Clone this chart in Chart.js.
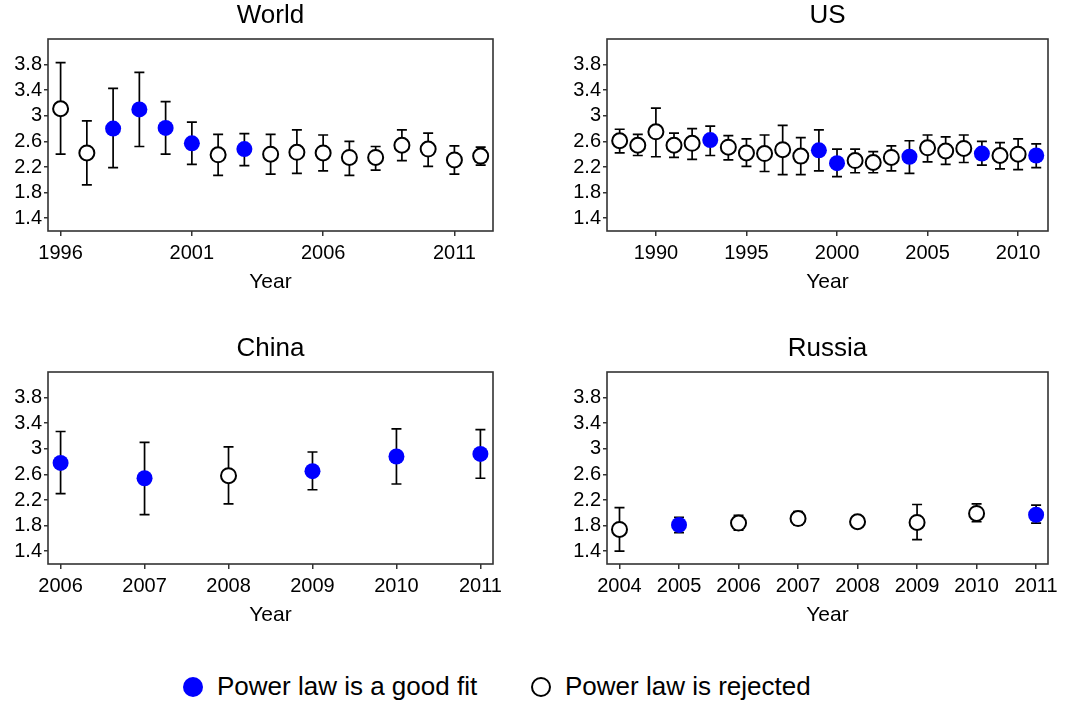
<!DOCTYPE html>
<html>
<head>
<meta charset="utf-8">
<script src="https://cdn.jsdelivr.net/npm/chart.js@4/dist/chart.umd.min.js"></script>
<style>
  body { margin: 0; background: #fff; font-family: "Liberation Sans", Arial, sans-serif; }
  #page { position: relative; width: 1066px; height: 701px; overflow: hidden; }
  .panel { position: absolute; }
  .legend { position: absolute; top: 671px; font-size: 26px; color: #000; line-height: 30px; white-space: nowrap; }
  .legend .dot { display: inline-block; width: 20px; height: 20px; border-radius: 50%; vertical-align: -2px; margin-right: 14px; box-sizing: border-box; }
</style>
</head>
<body>
<div id="page">
  <div class="panel" style="left:0;top:0;width:533px;height:333px"><canvas id="worldChart"></canvas></div>
  <div class="panel" style="left:559px;top:0;width:500px;height:333px"><canvas id="usChart"></canvas></div>
  <div class="panel" style="left:0;top:333px;width:533px;height:333px"><canvas id="chinaChart"></canvas></div>
  <div class="panel" style="left:559px;top:333px;width:511px;height:333px"><canvas id="russiaChart"></canvas></div>
  <div class="legend" style="left:183px"><span class="dot" style="background:#0000ff"></span>Power law is a good fit</div>
  <div class="legend" style="left:531px"><span class="dot" style="background:#fff;border:2px solid #000"></span>Power law is rejected</div>
</div>
<script>
// Data
const yTickValues = [1.4, 1.8, 2.2, 2.6, 3, 3.4, 3.8];

const worldYears = [1996, 1997, 1998, 1999, 2000, 2001, 2002, 2003, 2004, 2005, 2006, 2007, 2008, 2009, 2010, 2011, 2012];
const worldValues = [3.11, 2.42, 2.80, 3.10, 2.81, 2.57, 2.39, 2.48, 2.40, 2.43, 2.42, 2.35, 2.35, 2.54, 2.48, 2.31, 2.37];
const worldLower = [2.40, 1.92, 2.19, 2.52, 2.40, 2.24, 2.07, 2.22, 2.09, 2.10, 2.14, 2.07, 2.15, 2.30, 2.21, 2.09, 2.23];
const worldUpper = [3.83, 2.92, 3.43, 3.68, 3.22, 2.90, 2.71, 2.72, 2.71, 2.78, 2.70, 2.60, 2.52, 2.78, 2.73, 2.53, 2.51];
const worldGoodFit = [0, 0, 1, 1, 1, 1, 0, 1, 0, 0, 0, 0, 0, 0, 0, 0, 0];
const worldXTicks = [1996, 2001, 2006, 2011];

const usYears = [1988, 1989, 1990, 1991, 1992, 1993, 1994, 1995, 1996, 1997, 1998, 1999, 2000, 2001, 2002, 2003, 2004, 2005, 2006, 2007, 2008, 2009, 2010, 2011];
const usValues = [2.61, 2.54, 2.75, 2.54, 2.57, 2.62, 2.51, 2.42, 2.41, 2.47, 2.37, 2.46, 2.26, 2.30, 2.27, 2.35, 2.36, 2.50, 2.45, 2.49, 2.41, 2.38, 2.40, 2.38];
const usLower = [2.42, 2.38, 2.36, 2.35, 2.32, 2.38, 2.31, 2.21, 2.13, 2.08, 2.08, 2.14, 2.05, 2.11, 2.11, 2.14, 2.10, 2.28, 2.24, 2.27, 2.23, 2.17, 2.16, 2.19];
const usUpper = [2.79, 2.71, 3.12, 2.73, 2.80, 2.84, 2.69, 2.64, 2.70, 2.85, 2.66, 2.78, 2.48, 2.48, 2.44, 2.53, 2.61, 2.70, 2.67, 2.70, 2.60, 2.58, 2.64, 2.56];
const usGoodFit = [0, 0, 0, 0, 0, 1, 0, 0, 0, 0, 0, 1, 1, 0, 0, 0, 1, 0, 0, 0, 1, 0, 0, 1];
const usXTicks = [1990, 1995, 2000, 2005, 2010];

const chinaYears = [2006, 2007, 2008, 2009, 2010, 2011];
const chinaValues = [2.78, 2.54, 2.58, 2.65, 2.88, 2.92];
const chinaLower = [2.30, 1.97, 2.14, 2.36, 2.45, 2.54];
const chinaUpper = [3.27, 3.10, 3.03, 2.95, 3.31, 3.30];
const chinaGoodFit = [1, 1, 0, 1, 1, 1];
const chinaXTicks = [2006, 2007, 2008, 2009, 2010, 2011];

const russiaYears = [2004, 2005, 2006, 2007, 2008, 2009, 2010, 2011];
const russiaValues = [1.74, 1.81, 1.84, 1.91, 1.86, 1.85, 1.99, 1.97];
const russiaLower = [1.40, 1.69, 1.73, 1.81, 1.83, 1.58, 1.86, 1.84];
const russiaUpper = [2.08, 1.93, 1.96, 2.02, 1.89, 2.13, 2.14, 2.12];
const russiaGoodFit = [0, 1, 0, 0, 0, 0, 0, 1];
const russiaXTicks = [2004, 2005, 2006, 2007, 2008, 2009, 2010, 2011];

const FONT = '"Liberation Sans", Arial, sans-serif';

// error bars, frame and panel title drawn with the chart's own scales
const errorBarPlugin = {
  id: 'errorBars',
  beforeDatasetsDraw(chart, args, opts) {
    const { ctx, chartArea, scales: { x, y } } = chart;
    ctx.save();
    ctx.strokeStyle = '#333';
    ctx.lineWidth = 1.6;
    ctx.strokeRect(chartArea.left, chartArea.top, chartArea.right - chartArea.left, chartArea.bottom - chartArea.top);

    ctx.strokeStyle = '#000';
    ctx.lineWidth = 1.7;
    opts.years.forEach((yr, i) => {
      const px = x.getPixelForValue(yr);
      const top = y.getPixelForValue(opts.upper[i]);
      const bot = y.getPixelForValue(opts.lower[i]);
      ctx.beginPath();
      ctx.moveTo(px, top); ctx.lineTo(px, bot);
      ctx.moveTo(px - 5, top); ctx.lineTo(px + 5, top);
      ctx.moveTo(px - 5, bot); ctx.lineTo(px + 5, bot);
      ctx.stroke();
    });

    ctx.fillStyle = '#000';
    ctx.font = '26px ' + FONT;
    ctx.textAlign = 'center';
    ctx.textBaseline = 'middle';
    ctx.fillText(opts.title, (chartArea.left + chartArea.right) / 2, chartArea.top - 23);
    ctx.restore();
  }
};

function makePanel(id, title, years, values, lower, upper, goodFit, xTicks, xMin, xMax, rightPad) {
  const canvas = document.getElementById(id);
  if (!canvas) return;
  const good = [], bad = [];
  years.forEach((yr, i) => {
    (goodFit[i] ? good : bad).push({ x: yr, y: values[i] });
  });

  new Chart(canvas.getContext('2d'), {
    type: 'scatter',
    data: {
      datasets: [
        {
          label: 'Power law is a good fit',
          data: good,
          pointRadius: 8,
          pointBackgroundColor: '#0000ff',
          pointBorderColor: '#0000ff',
          pointBorderWidth: 0
        },
        {
          label: 'Power law is rejected',
          data: bad,
          pointRadius: 7.5,
          pointBackgroundColor: '#ffffff',
          pointBorderColor: '#000000',
          pointBorderWidth: 2
        }
      ]
    },
    options: {
      responsive: true,
      maintainAspectRatio: false,
      animation: false,
      layout: { padding: { top: 39, left: 0, right: rightPad, bottom: 38 } },
      plugins: {
        legend: { display: false },
        tooltip: { enabled: false },
        errorBars: { title, years, lower, upper }
      },
      scales: {
        x: {
          type: 'linear',
          min: xMin,
          max: xMax,
          afterBuildTicks: s => { s.ticks = xTicks.map(v => ({ value: v })); },
          afterFit: s => { s.height = 64; },
          border: { display: false },
          grid: { drawOnChartArea: false, drawTicks: true, tickLength: 5, color: '#333', lineWidth: 1.5 },
          ticks: {
            color: '#000',
            padding: 5,
            maxRotation: 0,
            autoSkip: false,
            font: { family: FONT, size: 20 },
            callback: v => String(v)
          },
          title: {
            display: true,
            text: 'Year',
            color: '#000',
            padding: { top: 0, bottom: 0 },
            font: { family: FONT, size: 21 }
          }
        },
        y: {
          min: 1.2,
          max: 4.2,
          afterBuildTicks: s => { s.ticks = yTickValues.map(v => ({ value: v })); },
          afterFit: s => { s.width = 48; },
          border: { display: false },
          grid: { drawOnChartArea: false, drawTicks: true, tickLength: 4, color: '#333', lineWidth: 1.5 },
          ticks: {
            color: '#000',
            padding: 2,
            font: { family: FONT, size: 20 },
            callback: v => String(v)
          }
        }
      }
    },
    plugins: [errorBarPlugin]
  });
}

document.addEventListener('DOMContentLoaded', () => {
  try {
    makePanel('worldChart', 'World', worldYears, worldValues, worldLower, worldUpper, worldGoodFit, worldXTicks, 1995.52, 2012.47, 40);
    makePanel('usChart', 'US', usYears, usValues, usLower, usUpper, usGoodFit, usXTicks, 1987.3, 2011.65, 11);
    makePanel('chinaChart', 'China', chinaYears, chinaValues, chinaLower, chinaUpper, chinaGoodFit, chinaXTicks, 2005.85, 2011.15, 40);
    makePanel('russiaChart', 'Russia', russiaYears, russiaValues, russiaLower, russiaUpper, russiaGoodFit, russiaXTicks, 2003.79, 2011.2, 22);
  } catch (err) {
    console.error('Error rendering charts:', err);
  }
});
</script>
</body>
</html>
